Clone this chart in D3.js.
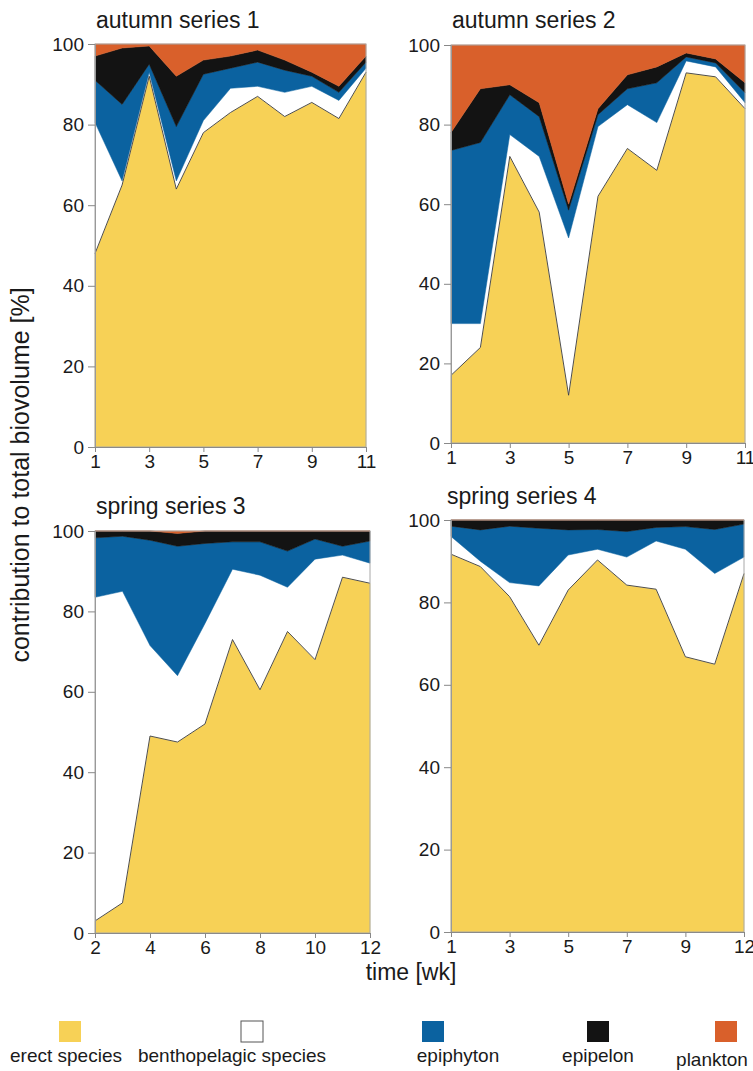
<!DOCTYPE html>
<html>
<head>
<meta charset="utf-8">
<script src="https://cdn.jsdelivr.net/npm/d3@7/dist/d3.min.js"></script>
<style>
body { margin: 0; background: #fff; }
text { font-family: "Liberation Sans", Arial, Helvetica, sans-serif; fill: #1a1a1a; }
</style>
</head>
<body>
<div id="graphicContainer"></div>
<script>
// layer names, bottom to top
var layers = ["erect", "bentho", "epiphyton", "epipelon", "plankton"];
var layerLabels = ["erect species", "benthopelagic species", "epiphyton", "epipelon", "plankton"];
var layerColors = ["#f7d156", "#ffffff", "#0b62a0", "#131313", "#d9602b"];

// autumn series 1
var weeks1 = [1, 2, 3, 4, 5, 6, 7, 8, 9, 10, 11];
var erect1 = [48, 65, 92, 64, 78, 83, 87, 82, 85.5, 81.5, 93];
var bentho1 = [32.5, 1, 1, 2, 3, 6, 2.5, 6, 4, 4.5, 1];
var epiphyton1 = [10.5, 19, 2, 13.5, 11.5, 5, 6, 5.5, 2.5, 2, 1.5];
var epipelon1 = [6, 14, 4.5, 12.5, 3.5, 3, 3, 2.5, 1, 1.5, 1.5];
var plankton1 = [3, 1, 0.5, 8, 4, 3, 1.5, 4, 7, 10.5, 3];

// autumn series 2
var weeks2 = [1, 2, 3, 4, 5, 6, 7, 8, 9, 10, 11];
var erect2 = [17, 24, 72, 58, 12, 62, 74, 68.5, 93, 92, 84];
var bentho2 = [13, 6, 5.5, 14, 39.5, 17.5, 11, 12, 3, 2.5, 1.5];
var epiphyton2 = [43.5, 45.5, 10, 10, 7, 3, 4, 10, 1, 1, 2.5];
var epipelon2 = [4.5, 13.5, 2.5, 3.5, 1.5, 1.5, 3.5, 4, 1, 1, 2.5];
var plankton2 = [22, 11, 10, 14.5, 40, 16, 7.5, 5.5, 2, 3.5, 9.5];

// spring series 3
var weeks3 = [2, 3, 4, 5, 6, 7, 8, 9, 10, 11, 12];
var erect3 = [3, 7.5, 49, 47.5, 52, 73, 60.5, 75, 68, 88.5, 87];
var bentho3 = [80.5, 77.5, 22.5, 16.5, 25, 17.5, 28.5, 11, 25, 5.5, 5];
var epiphyton3 = [14.8, 13.7, 26.2, 32.2, 19.9, 6.8, 8.3, 9, 5, 2.2, 5.5];
var epipelon3 = [1.7, 1.3, 2.3, 3.2, 3.1, 2.7, 2.7, 5, 2, 3.8, 2.5];
var plankton3 = [0, 0, 0, 0.6, 0, 0, 0, 0, 0, 0, 0];

// spring series 4
var weeks4 = [1, 2, 3, 4, 5, 6, 7, 8, 9, 10, 12];
var erect4 = [91.7, 88.7, 81.4, 69.6, 83, 90.3, 84.2, 83.2, 66.8, 65, 87];
var bentho4 = [4.3, 1.3, 3.4, 14.4, 8.5, 2.6, 6.8, 11.7, 26.1, 22, 4];
var epiphyton4 = [2.5, 7.6, 13.7, 14, 6.1, 4.8, 6.2, 3.3, 5.5, 10.7, 8];
var epipelon4 = [1.5, 2.4, 1.5, 2, 2.4, 2.3, 2.8, 1.8, 1.6, 2.3, 1];
var plankton4 = [0, 0, 0, 0, 0, 0, 0, 0, 0, 0, 0];

var yTicks = [0, 20, 40, 60, 80, 100];

var panels = [
	{title: "autumn series 1", weeks: weeks1, cols: [erect1, bentho1, epiphyton1, epipelon1, plankton1],
	 left: 95, right: 366, top: 44, bottom: 447, tx: 96, ty: 28},
	{title: "autumn series 2", weeks: weeks2, cols: [erect2, bentho2, epiphyton2, epipelon2, plankton2],
	 left: 451, right: 745, top: 45, bottom: 443, tx: 452, ty: 28},
	{title: "spring series 3", weeks: weeks3, cols: [erect3, bentho3, epiphyton3, epipelon3, plankton3],
	 left: 95, right: 370, top: 531, bottom: 933, tx: 96, ty: 514},
	{title: "spring series 4", weeks: weeks4, cols: [erect4, bentho4, epiphyton4, epipelon4, plankton4],
	 left: 451, right: 744, top: 520, bottom: 932, tx: 447, ty: 504}
];

var width = 753, height = 1071;

var svg = d3.select("#graphicContainer").append("svg")
	.attr("width", width)
	.attr("height", height);

var color = d3.scaleOrdinal().domain(layers).range(layerColors);
var stack = d3.stack().keys(layers);

panels.forEach(function(p) {
	var rows = p.weeks.map(function(w, i) {
		var r = {week: w};
		layers.forEach(function(k, j) { r[k] = p.cols[j][i]; });
		return r;
	});
	var series = stack(rows);

	var x = d3.scalePoint().domain(p.weeks).range([p.left, p.right]);
	var y = d3.scaleLinear().domain([0, 100]).range([p.bottom, p.top]);

	var g = svg.append("g");

	var area = d3.area()
		.x(function(d) { return x(d.data.week); })
		.y0(function(d) { return y(d[0]); })
		.y1(function(d) { return y(Math.min(d[1], 100)); });

	g.selectAll(".layer")
		.data(series)
		.enter().append("path")
		.attr("class", "layer")
		.attr("d", area)
		.attr("fill", function(d) { return color(d.key); })
		.attr("stroke", function(d) { return color(d.key); })
		.attr("stroke-width", 0.5);

	// thin dark outline on top of erect species
	g.append("path")
		.datum(series[0])
		.attr("d", d3.line()
			.x(function(d) { return x(d.data.week); })
			.y(function(d) { return y(d[1]); }))
		.attr("fill", "none")
		.attr("stroke", "#3a3a3a")
		.attr("stroke-width", 0.9);

	// frame
	g.append("rect")
		.attr("x", p.left).attr("y", p.top)
		.attr("width", p.right - p.left).attr("height", p.bottom - p.top)
		.attr("fill", "none")
		.attr("stroke", "#a8a8a8")
		.attr("stroke-width", 1);

	var yAxis = g.append("g")
		.attr("transform", "translate(" + p.left + ",0)")
		.call(d3.axisLeft(y).tickValues(yTicks).tickSize(7).tickPadding(4));
	yAxis.select(".domain").attr("stroke", "#999");
	yAxis.selectAll(".tick line").attr("stroke", "#888");
	yAxis.selectAll("text").style("font-size", "19px").attr("fill", "#1a1a1a");

	var xAxis = g.append("g")
		.attr("transform", "translate(0," + p.bottom + ")")
		.call(d3.axisBottom(x)
			.tickValues(p.weeks.filter(function(d, i) { return i % 2 === 0; }))
			.tickSize(5).tickPadding(3));
	xAxis.select(".domain").attr("stroke", "#8a8a8a").attr("d", "M" + (p.left - 7) + ",0.5H" + p.right);
	xAxis.selectAll(".tick line").attr("stroke", "#888");
	xAxis.selectAll("text").style("font-size", "19px").attr("fill", "#1a1a1a");

	svg.append("text")
		.attr("x", p.tx).attr("y", p.ty)
		.style("font-size", "23px")
		.text(p.title);
});

// axis titles
svg.append("text")
	.attr("transform", "translate(29,475) rotate(-90)")
	.attr("text-anchor", "middle")
	.style("font-size", "25px")
	.text("contribution to total biovolume [%]");

svg.append("text")
	.attr("x", 411).attr("y", 980)
	.attr("text-anchor", "middle")
	.style("font-size", "23px")
	.text("time [wk]");

// legend
var swatchX = [70, 252, 433, 598, 726];
var labelX = [66, 232, 458, 598, 712];
var legend = svg.append("g").selectAll("g")
	.data(layers)
	.enter().append("g");

legend.append("rect")
	.attr("x", function(d, i) { return swatchX[i] - 11; })
	.attr("y", 1021)
	.attr("width", 22).attr("height", 21)
	.attr("fill", function(d) { return color(d); })
	.attr("stroke", function(d, i) { return i === 1 ? "#555" : "none"; })
	.attr("stroke-width", 1);

legend.append("text")
	.attr("x", function(d, i) { return labelX[i]; })
	.attr("y", function(d, i) { return i === 4 ? 1066 : 1062; })
	.attr("text-anchor", "middle")
	.style("font-size", "19px")
	.text(function(d, i) { return layerLabels[i]; });
</script>
</body>
</html>
